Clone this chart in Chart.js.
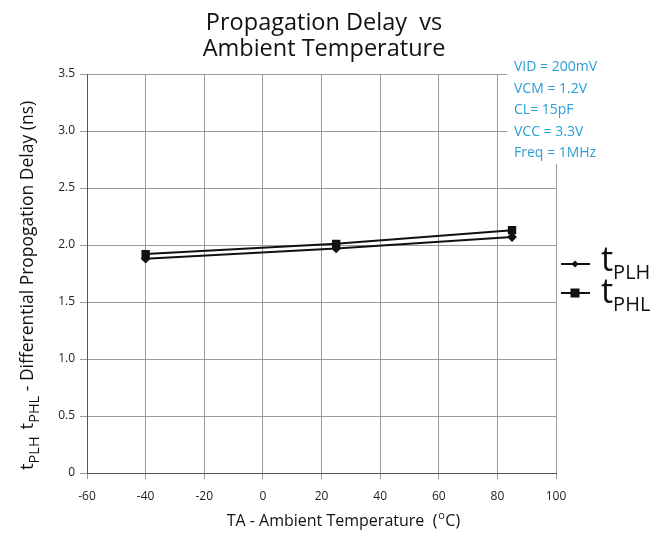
<!DOCTYPE html>
<html lang="en">
<head>
<meta charset="UTF-8">
<title>Propagation Delay vs Ambient Temperature</title>
<script src="https://cdn.jsdelivr.net/npm/chart.js"></script>
<style>
  html, body { margin: 0; padding: 0; background: #fff; }
  canvas { display: block; }
</style>
</head>
<body>
<canvas id="chart" width="668" height="533"></canvas>
<script>
const temps = [-40, 25, 85];
const tPLH = [1.88, 1.97, 2.07];
const tPHL = [1.92, 2.01, 2.13];
const xTicks = [-60, -40, -20, 0, 20, 40, 60, 80, 100];
const yTicks = [0, 0.5, 1.0, 1.5, 2.0, 2.5, 3.0, 3.5];
const conditions = ['VID = 200mV', 'VCM = 1.2V', 'CL= 15pF', 'VCC = 3.3V', 'Freq = 1MHz'];

const FONT = '"Open Sans", "Liberation Sans", sans-serif';

function sub(ctx, x, y, main, small, bigSize, smallSize) {
    // "t" with a subscript, left aligned at x on baseline y
    ctx.font = bigSize + 'px ' + FONT;
    ctx.fillText(main, x, y);
    let w = ctx.measureText(main).width;
    ctx.font = smallSize + 'px ' + FONT;
    ctx.fillText(small, x + w, y + smallSize * 0.4);
    return w + ctx.measureText(small).width;
}

const extras = {
    id: 'extras',
    afterDraw(chart) {
        const ctx = chart.ctx;
        ctx.save();
        ctx.fillStyle = '#111';
        ctx.textAlign = 'center';
        ctx.textBaseline = 'alphabetic';
        ctx.font = '23.5px ' + FONT;
        ctx.fillText('Propagation Delay  vs', 324, 30);
        ctx.fillText('Ambient Temperature', 324, 56);

        // x axis title
        ctx.font = '16px ' + FONT;
        ctx.fillText('TA - Ambient Temperature  (', 332, 526);
        let w1 = ctx.measureText('TA - Ambient Temperature  (').width;
        ctx.textAlign = 'left';
        let x0 = 332 + w1 / 2;
        ctx.font = '11px ' + FONT;
        ctx.fillText('o', x0 + 1, 519);
        ctx.font = '16px ' + FONT;
        ctx.fillText('C)', x0 + 8, 526);

        // y axis title (rotated)
        ctx.save();
        ctx.translate(33, 470);
        ctx.rotate(-Math.PI / 2);
        ctx.textAlign = 'left';
        let x = 0;
        x += sub(ctx, x, 0, 't', 'PLH', 18.5, 14.5) + 7;
        x += sub(ctx, x, 0, 't', 'PHL', 18.5, 14.5);
        ctx.font = '17.5px ' + FONT;
        ctx.fillText(' - Differential Propogation Delay (ns)', x, 0);
        ctx.restore();

        // conditions box
        ctx.fillStyle = '#fff';
        ctx.fillRect(507, 56, 112, 108);
        ctx.fillStyle = '#2a9fd8';
        ctx.font = '14px ' + FONT;
        ctx.textAlign = 'left';
        conditions.forEach((t, i) => ctx.fillText(t, 514, 71 + i * 21.5));

        // legend
        ctx.fillStyle = '#111';
        ctx.strokeStyle = '#111';
        ctx.lineWidth = 2;
        [[264, 'PLH', 'diamond', 7], [293, 'PHL', 'square', 10]].forEach(([ly, s, m, dy]) => {
            ctx.beginPath();
            ctx.moveTo(561, ly);
            ctx.lineTo(590, ly);
            ctx.stroke();
            if (m === 'diamond') {
                ctx.beginPath();
                ctx.moveTo(575, ly - 3.5); ctx.lineTo(578.5, ly);
                ctx.lineTo(575, ly + 3.5); ctx.lineTo(571.5, ly);
                ctx.closePath(); ctx.fill();
            } else {
                ctx.fillRect(570.5, ly - 4.5, 9, 9);
            }
            sub(ctx, 601, ly + dy, 't', s, 34, 20);
        });
        ctx.restore();
    }
};

new Chart(document.getElementById('chart'), {
    type: 'scatter',
    data: {
        datasets: [
            {
                label: 'tPLH',
                data: temps.map((t, i) => ({ x: t, y: tPLH[i] })),
                showLine: true,
                borderColor: '#111',
                backgroundColor: '#111',
                borderWidth: 2,
                pointStyle: 'rectRot',
                pointRadius: 3.5,
                pointHoverRadius: 3.5
            },
            {
                label: 'tPHL',
                data: temps.map((t, i) => ({ x: t, y: tPHL[i] })),
                showLine: true,
                borderColor: '#111',
                backgroundColor: '#111',
                borderWidth: 2,
                pointStyle: 'rect',
                pointRadius: 4.5,
                pointHoverRadius: 4.5
            }
        ]
    },
    options: {
        responsive: false,
        animation: false,
        layout: { padding: { left: 0, right: 112, top: 74, bottom: 0 } },
        plugins: { legend: { display: false }, tooltip: { enabled: false } },
        scales: {
            x: {
                type: 'linear',
                min: -60, max: 100,
                afterBuildTicks: s => { s.ticks = xTicks.map(v => ({ value: v })); },
                afterFit: s => { s.height = 60; },
                grid: { color: '#9a9a9a', tickLength: 6, lineWidth: 1 },
                border: { color: '#555', width: 1 },
                ticks: { color: '#222', font: { family: FONT, size: 12 }, padding: 10 }
            },
            y: {
                min: 0, max: 3.5,
                afterBuildTicks: s => { s.ticks = yTicks.map(v => ({ value: v })); },
                afterFit: s => { s.width = 87; },
                grid: { color: '#9a9a9a', tickLength: 7, lineWidth: 1 },
                border: { color: '#555', width: 1 },
                ticks: {
                    color: '#222',
                    font: { family: FONT, size: 12 },
                    padding: 5,
                    callback: v => v === 0 ? '0' : v.toFixed(1)
                }
            }
        }
    },
    plugins: [extras]
});
</script>
</body>
</html>
